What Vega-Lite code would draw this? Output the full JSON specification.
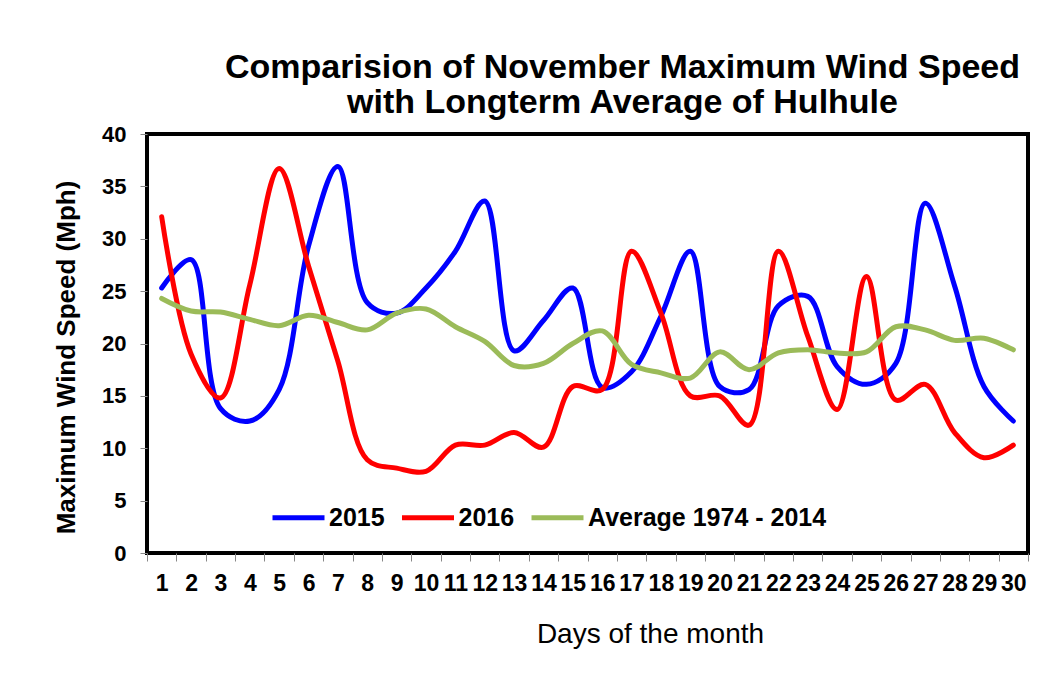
{
  "$schema": "https://vega.github.io/schema/vega-lite/v6.json",
  "autosize": {"type": "none"},
  "width": 881,
  "height": 419,
  "padding": {"left": 147, "top": 134, "right": 24, "bottom": 136},
  "background": "white",
  "config": {
    "font": "Liberation Sans",
    "view": {"stroke": "black", "strokeWidth": 4}
  },
  "title": {
    "text": ["Comparision of November Maximum Wind Speed", "with Longterm Average of Hulhule"],
    "font": "Liberation Sans",
    "fontSize": 34,
    "fontWeight": "bold",
    "color": "black",
    "anchor": "middle",
    "frame": "group",
    "dx": 35,
    "baseline": "bottom",
    "lineHeight": 35,
    "offset": -31
  },
  "data": {
    "values": [
      {"day": 1, "series": "2015", "value": 25.3},
      {"day": 2, "series": "2015", "value": 28.0},
      {"day": 3, "series": "2015", "value": 13.8},
      {"day": 4, "series": "2015", "value": 12.6},
      {"day": 5, "series": "2015", "value": 15.6},
      {"day": 6, "series": "2015", "value": 29.3},
      {"day": 7, "series": "2015", "value": 36.9},
      {"day": 8, "series": "2015", "value": 23.9},
      {"day": 9, "series": "2015", "value": 22.9},
      {"day": 10, "series": "2015", "value": 25.3},
      {"day": 11, "series": "2015", "value": 28.8},
      {"day": 12, "series": "2015", "value": 33.6},
      {"day": 13, "series": "2015", "value": 19.3},
      {"day": 14, "series": "2015", "value": 22.2},
      {"day": 15, "series": "2015", "value": 25.3},
      {"day": 16, "series": "2015", "value": 15.8},
      {"day": 17, "series": "2015", "value": 17.3},
      {"day": 18, "series": "2015", "value": 22.6},
      {"day": 19, "series": "2015", "value": 28.8},
      {"day": 20, "series": "2015", "value": 15.9},
      {"day": 21, "series": "2015", "value": 15.6},
      {"day": 22, "series": "2015", "value": 23.6},
      {"day": 23, "series": "2015", "value": 24.5},
      {"day": 24, "series": "2015", "value": 17.8},
      {"day": 25, "series": "2015", "value": 16.1},
      {"day": 26, "series": "2015", "value": 18.1},
      {"day": 27, "series": "2015", "value": 33.4},
      {"day": 28, "series": "2015", "value": 25.5},
      {"day": 29, "series": "2015", "value": 15.9},
      {"day": 30, "series": "2015", "value": 12.6},
      {"day": 1, "series": "2016", "value": 32.1},
      {"day": 2, "series": "2016", "value": 19.0},
      {"day": 3, "series": "2016", "value": 14.8},
      {"day": 4, "series": "2016", "value": 25.6},
      {"day": 5, "series": "2016", "value": 36.7},
      {"day": 6, "series": "2016", "value": 27.4},
      {"day": 7, "series": "2016", "value": 18.3},
      {"day": 8, "series": "2016", "value": 8.9},
      {"day": 9, "series": "2016", "value": 8.1},
      {"day": 10, "series": "2016", "value": 7.8},
      {"day": 11, "series": "2016", "value": 10.3},
      {"day": 12, "series": "2016", "value": 10.3},
      {"day": 13, "series": "2016", "value": 11.5},
      {"day": 14, "series": "2016", "value": 10.1},
      {"day": 15, "series": "2016", "value": 15.9},
      {"day": 16, "series": "2016", "value": 15.6},
      {"day": 17, "series": "2016", "value": 28.8},
      {"day": 18, "series": "2016", "value": 22.9},
      {"day": 19, "series": "2016", "value": 15.0},
      {"day": 20, "series": "2016", "value": 15.0},
      {"day": 21, "series": "2016", "value": 12.2},
      {"day": 22, "series": "2016", "value": 28.8},
      {"day": 23, "series": "2016", "value": 20.7},
      {"day": 24, "series": "2016", "value": 13.7},
      {"day": 25, "series": "2016", "value": 26.4},
      {"day": 26, "series": "2016", "value": 14.6},
      {"day": 27, "series": "2016", "value": 16.1},
      {"day": 28, "series": "2016", "value": 11.5},
      {"day": 29, "series": "2016", "value": 9.1},
      {"day": 30, "series": "2016", "value": 10.3},
      {"day": 1, "series": "Average 1974 - 2014", "value": 24.3},
      {"day": 2, "series": "Average 1974 - 2014", "value": 23.1},
      {"day": 3, "series": "Average 1974 - 2014", "value": 23.0},
      {"day": 4, "series": "Average 1974 - 2014", "value": 22.3},
      {"day": 5, "series": "Average 1974 - 2014", "value": 21.7},
      {"day": 6, "series": "Average 1974 - 2014", "value": 22.7},
      {"day": 7, "series": "Average 1974 - 2014", "value": 22.0},
      {"day": 8, "series": "Average 1974 - 2014", "value": 21.3},
      {"day": 9, "series": "Average 1974 - 2014", "value": 22.9},
      {"day": 10, "series": "Average 1974 - 2014", "value": 23.3},
      {"day": 11, "series": "Average 1974 - 2014", "value": 21.6},
      {"day": 12, "series": "Average 1974 - 2014", "value": 20.2},
      {"day": 13, "series": "Average 1974 - 2014", "value": 17.9},
      {"day": 14, "series": "Average 1974 - 2014", "value": 18.1},
      {"day": 15, "series": "Average 1974 - 2014", "value": 20.0},
      {"day": 16, "series": "Average 1974 - 2014", "value": 21.2},
      {"day": 17, "series": "Average 1974 - 2014", "value": 18.0},
      {"day": 18, "series": "Average 1974 - 2014", "value": 17.2},
      {"day": 19, "series": "Average 1974 - 2014", "value": 16.7},
      {"day": 20, "series": "Average 1974 - 2014", "value": 19.2},
      {"day": 21, "series": "Average 1974 - 2014", "value": 17.5},
      {"day": 22, "series": "Average 1974 - 2014", "value": 19.1},
      {"day": 23, "series": "Average 1974 - 2014", "value": 19.4},
      {"day": 24, "series": "Average 1974 - 2014", "value": 19.1},
      {"day": 25, "series": "Average 1974 - 2014", "value": 19.2},
      {"day": 26, "series": "Average 1974 - 2014", "value": 21.6},
      {"day": 27, "series": "Average 1974 - 2014", "value": 21.3},
      {"day": 28, "series": "Average 1974 - 2014", "value": 20.3},
      {"day": 29, "series": "Average 1974 - 2014", "value": 20.5},
      {"day": 30, "series": "Average 1974 - 2014", "value": 19.4}
    ]
  },
  "mark": {"type": "line", "interpolate": "catmull-rom", "strokeWidth": 5, "strokeCap": "round"},
  "encoding": {
    "x": {
      "field": "day",
      "type": "ordinal",
      "scale": {"paddingInner": 0, "paddingOuter": 0},
      "axis": {
        "title": "Days of the month",
        "titleFont": "Liberation Sans",
        "titleFontSize": 28,
        "titleFontWeight": "normal",
        "titleColor": "black",
        "titleX": 503,
        "titleY": 89,
        "titleAlign": "center",
        "titleBaseline": "alphabetic",
        "labelAngle": 0,
        "labelFont": "Liberation Sans",
        "labelFontSize": 23,
        "labelFontWeight": "bold",
        "labelColor": "black",
        "labelPadding": 11,
        "labelBaseline": "top",
        "labelOverlap": false,
        "labelBound": false,
        "tickBand": "extent",
        "tickSize": 8,
        "tickColor": "#888888",
        "tickWidth": 1,
        "domain": false,
        "grid": false
      }
    },
    "y": {
      "field": "value",
      "type": "quantitative",
      "scale": {"domain": [0, 40], "nice": false, "zero": true},
      "axis": {
        "title": "Maximum Wind Speed (Mph)",
        "titleFont": "Liberation Sans",
        "titleFontSize": 26,
        "titleFontWeight": "bold",
        "titleColor": "black",
        "titleAngle": -90,
        "titleX": -73,
        "titleY": 223,
        "titleAlign": "center",
        "titleBaseline": "alphabetic",
        "values": [0, 5, 10, 15, 20, 25, 30, 35, 40],
        "labelFont": "Liberation Sans",
        "labelFontSize": 22,
        "labelFontWeight": "bold",
        "labelColor": "black",
        "labelPadding": 14,
        "labelFlush": false,
        "labelOverlap": false,
        "tickSize": 7,
        "tickColor": "#888888",
        "tickWidth": 1,
        "domain": false,
        "grid": false
      }
    },
    "color": {
      "field": "series",
      "type": "nominal",
      "scale": {
        "domain": ["2015", "2016", "Average 1974 - 2014"],
        "range": ["#0000FF", "#FF0000", "#9BBB59"]
      },
      "legend": {
        "title": null,
        "orient": "none",
        "direction": "horizontal",
        "legendX": 123,
        "legendY": 355,
        "symbolType": "stroke",
        "symbolSize": 2704,
        "symbolStrokeWidth": 5,
        "labelFont": "Liberation Sans",
        "labelFontSize": 25,
        "labelFontWeight": "bold",
        "labelColor": "black",
        "labelOffset": 2,
        "columnPadding": 6.5,
        "labelLimit": 400
      }
    }
  }
}
